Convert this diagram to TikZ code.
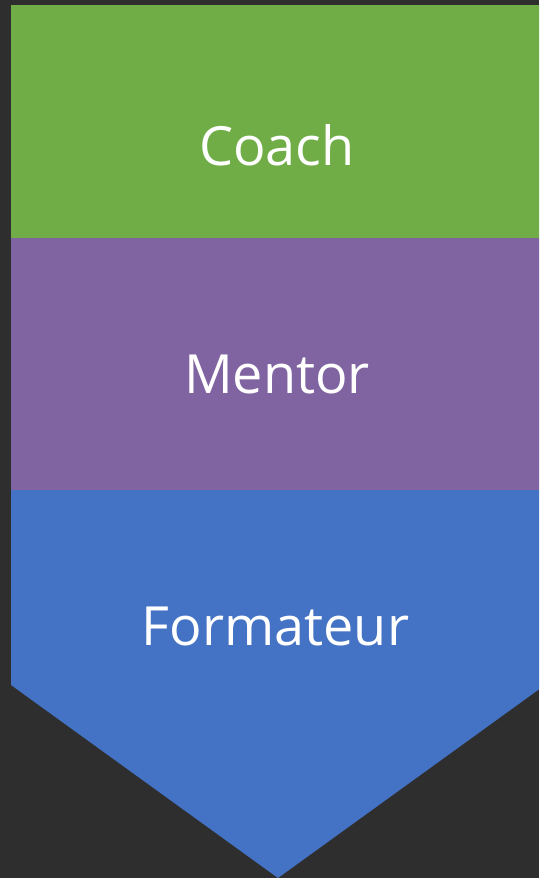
\documentclass[tikz,border=0pt]{standalone}
\usepackage{fontspec}
\setmainfont{Open Sans}
\definecolor{bg}{HTML}{2E2E2E}
\definecolor{cgreen}{HTML}{70AD47}
\definecolor{cpurple}{HTML}{8064A2}
\definecolor{cblue}{HTML}{4472C4}
\begin{document}
\begin{tikzpicture}[x=1pt,y=-1pt,
  label/.style={text=white,font=\fontsize{54}{60}\selectfont,anchor=base,inner sep=0pt}]
\useasboundingbox (0,0) rectangle (539,878);
\clip (0,0) rectangle (539,878);
\fill[bg] (0,0) rectangle (539,878);
\fill[cgreen] (11,5) rectangle (545,238);
\fill[cpurple] (11,238) rectangle (545,490);
\fill[cblue] (11,490) -- (545,490) -- (545,685) -- (278,878) -- (11,685) -- cycle;
\node[label] (coach) at (277,165) {Coach};
\node[label] (mentor) at (277,393) {Mentor};
\node[label] (formateur) at (275.5,645) {Formateur};
\end{tikzpicture}
\end{document}
